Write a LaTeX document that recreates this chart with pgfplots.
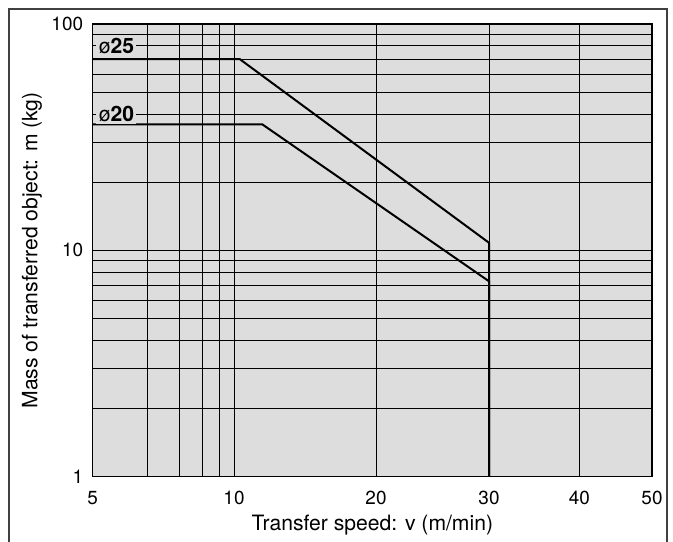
\documentclass[border=0pt]{standalone}
\usepackage{fontspec}
\setmainfont{TeX Gyre Heros}
\usepackage{pgfplots}
\pgfplotsset{compat=1.18}
\definecolor{bg}{RGB}{221,221,221}
\newcommand\xtrafo[1]{\pgfmathparse{ifthenelse(#1<6,(#1-5)*55,ifthenelse(#1<7,55+(#1-6)*31.3,ifthenelse(#1<8,86.3+(#1-7)*23.3,ifthenelse(#1<9,109.6+(#1-8)*17.4,ifthenelse(#1<10,127+(#1-9)*14.3,ifthenelse(#1<20,141.3+(#1-10)*14.2,ifthenelse(#1<30,283.3+(#1-20)*11.3,ifthenelse(#1<40,396.3+(#1-30)*9.03,486.6+(#1-40)*7.27))))))))}}
\begin{document}
\begin{tikzpicture}
\useasboundingbox (0,0) rectangle (336.5bp,271bp);
\draw[line width=0.6bp, black!75] (4.5bp,-1bp) -- (4.5bp,266.5bp) -- (333.5bp,266.5bp) -- (333.5bp,-1bp);
\begin{axis}[
  at={(46.35bp,32.65bp)}, anchor=south west,
  scale only axis, width=279.65bp, height=226.35bp,
  x coord trafo/.code={\xtrafo{#1}},
  xmin=5, xmax=50, ymin=1, ymax=100, ymode=log,
  enlargelimits=false,
  xtick={5,10,20,30,40,50}, xticklabels={5,10,20,30,40,50},
  minor xtick={6,7,8,9},
  ytick={1,10,100}, yticklabels={1,10,100},
  minor ytick={2,3,4,5,6,7,8,9,20,30,40,50,60,70,80,90},
  grid=both,
  major grid style={black, line width=0.5bp},
  minor grid style={black, line width=0.5bp},
  axis background/.style={fill=bg},
  axis line style={black, line width=0.6bp},
  major tick length=0pt, minor tick length=0pt,
  tick style={draw=none},
  tick label style={font=\fontsize{9.5}{11}\selectfont},
  xticklabel style={yshift=-3.6bp},
  yticklabel style={xshift=-1.3bp},
  label style={font=\fontsize{10.6}{12}\selectfont},
  xlabel={Transfer speed: v (m/min)},
  ylabel={Mass of transferred object: m (kg)},
  xlabel style={at={(axis description cs:0.5,-0.106)}, anchor=center},
  ylabel style={at={(axis description cs:-0.1085,0.5)}, anchor=center},
  /pgf/number format/assume math mode=true,
]
\addplot[black, line width=1bp] coordinates {(5,70) (10.4,70) (30,10.8) (30,1)};
\addplot[black, line width=1bp] coordinates {(5,36) (12,36) (30,7.3) (30,1)};
\node[fill=bg, inner sep=1.2bp, anchor=west, font=\fontsize{10.6}{12}\selectfont] at (rel axis cs:0.006,0.9515) {ø\textbf{25}};
\node[fill=bg, inner sep=1.2bp, anchor=west, font=\fontsize{10.6}{12}\selectfont] at (rel axis cs:0.006,0.801) {ø\textbf{20}};
\end{axis}
\end{tikzpicture}
\end{document}
